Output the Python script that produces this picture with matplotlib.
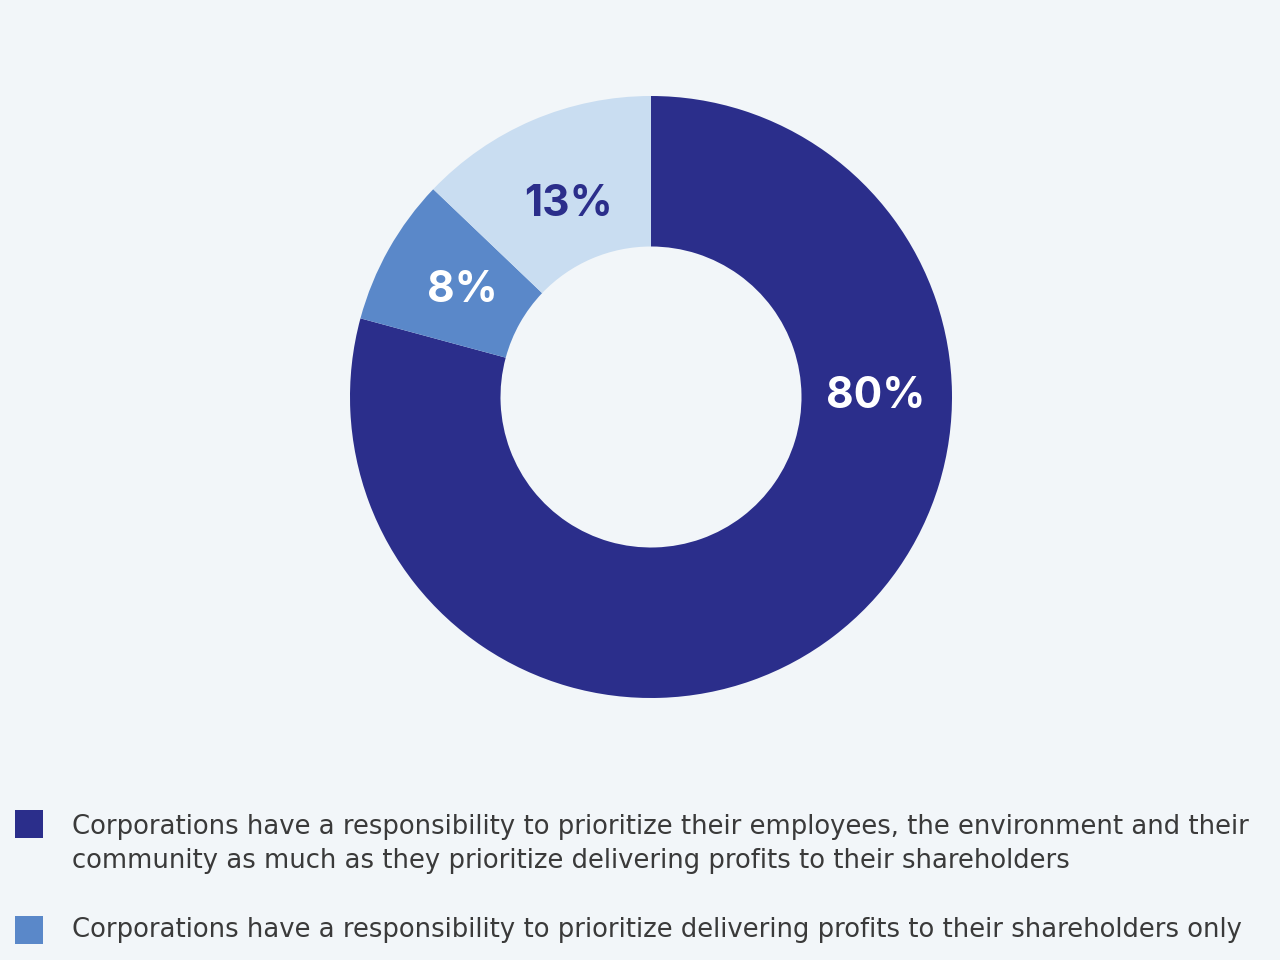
import matplotlib
matplotlib.use("Agg")
import matplotlib.pyplot as plt
import numpy as np

categories = [
    "Corporations have a responsibility to prioritize their employees, the environment and their\ncommunity as much as they prioritize delivering profits to their shareholders",
    "Corporations have a responsibility to prioritize delivering profits to their shareholders only",
    "Other",
]
values = [80, 8, 13]
labels = ["80%", "8%", "13%"]
colors = ["#2b2e8b", "#5a88c9", "#c9ddf1"]
label_colors = ["white", "white", "#2b2e8b"]

BG = "#f2f6f9"
W, H = 1280, 960
fig = plt.figure(figsize=(12.8, 9.6), dpi=100, facecolor=BG)
ax = fig.add_axes([0, 0, 1, 1])
ax.set_facecolor(BG)

cx, cy, R = 651, H - 397, 301
wedges, _ = ax.pie(values, colors=colors, startangle=90, counterclock=False,
                   center=(cx, cy), radius=R,
                   wedgeprops=dict(width=R * 0.5, edgecolor="none"),
                   frame=True)
ax.set_xlim(0, W)
ax.set_ylim(0, H)
ax.set_aspect("equal")
ax.axis("off")

total = sum(values)
dists = [0.745, 0.72, 0.695]
angle = 90.0
for i, (v, lab) in enumerate(zip(values, labels)):
    span = v / total * 360
    mid = angle - span / 2
    angle -= span
    if i == 0:
        mid = 0.0
    d = dists[i] * R
    x = cx + d * np.cos(np.radians(mid))
    y = cy + d * np.sin(np.radians(mid))
    ax.text(x, y, lab, ha="center", va="center", fontsize=30.5, fontweight="bold",
            color=label_colors[i], family="Inter")

# legend
leg_y = [H - 824, H - 930]
for i in range(2):
    ax.add_patch(plt.Rectangle((15, leg_y[i] - 14), 28, 28, color=colors[i], lw=0))
ax.text(72, H - 844, categories[0], ha="left", va="center", fontsize=18.65,
        color="#3a3a3a", family="DejaVu Sans", linespacing=1.43)
ax.text(72, leg_y[1], categories[1], ha="left", va="center", fontsize=18.65,
        color="#3a3a3a", family="DejaVu Sans")

fig.savefig("out.png", dpi=100, facecolor=BG)
